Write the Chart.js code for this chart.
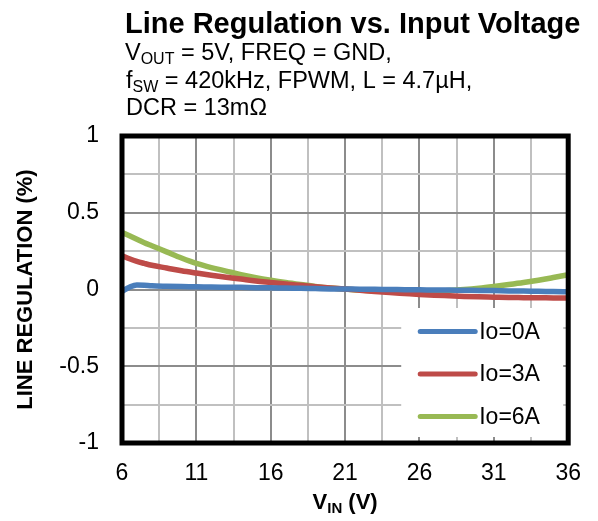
<!DOCTYPE html>
<html>
<head>
<meta charset="utf-8">
<script src="https://cdn.jsdelivr.net/npm/chart.js@4.4.1/dist/chart.umd.min.js"></script>
<style>
  html, body { margin: 0; padding: 0; background: #fff; overflow: hidden; }
  #wrap { position: relative; width: 598px; height: 521px; }
</style>
</head>
<body>
<div id="wrap"><canvas id="c" width="598" height="521"></canvas></div>
<script>
// Input voltage (V)
const VIN = [6, 6.5, 7, 7.5, 8, 9, 10, 11, 12, 13, 14, 15, 16, 17, 18, 19, 20, 21,
             22, 23, 24, 25, 26, 27, 28, 29, 30, 31, 32, 33, 34, 35, 36];

// Line regulation (%) per load current
const IO_0A = [-0.012, 0.015, 0.030, 0.028, 0.024, 0.021, 0.019, 0.018, 0.016, 0.015, 0.014, 0.012,
               0.011, 0.009, 0.008, 0.006, 0.004, 0.003, 0.002, 0.001, 0.000, -0.001, -0.002,
               -0.003, -0.004, -0.005, -0.006, -0.007, -0.009, -0.010, -0.012, -0.013, -0.015];
const IO_3A = [0.220, 0.200, 0.183, 0.170, 0.158, 0.140, 0.122, 0.107, 0.093, 0.080, 0.068, 0.056,
               0.046, 0.036, 0.027, 0.018, 0.010, 0.003, -0.005, -0.013, -0.020, -0.026, -0.032,
               -0.037, -0.041, -0.045, -0.048, -0.050, -0.052, -0.053, -0.054, -0.055, -0.056];
const IO_6A = [0.372, 0.350, 0.327, 0.305, 0.285, 0.245, 0.205, 0.170, 0.143, 0.120, 0.097, 0.077,
               0.060, 0.045, 0.032, 0.020, 0.010, 0.003, -0.004, -0.009, -0.012, -0.014, -0.015,
               -0.012, -0.007, 0.000, 0.009, 0.020, 0.032, 0.045, 0.060, 0.078, 0.096];

const SERIES_NAMES = ['Io=0A', 'Io=3A', 'Io=6A'];
const SERIES_COLORS = ['#4A7EBB', '#BE4B48', '#98B954'];

// Grid positions and the labelled subset
const X_TICKS = [6, 8.5, 11, 13.5, 16, 18.5, 21, 23.5, 26, 28.5, 31, 33.5, 36];
const X_LABELS = [6, 11, 16, 21, 26, 31, 36];
const Y_TICKS = [-1, -0.75, -0.5, -0.25, 0, 0.25, 0.5, 0.75, 1];
const Y_LABELS = [-1, -0.5, 0, 0.5, 1];

const FONT = '"Liberation Sans", Arial, sans-serif';

const toPoints = (ys) => VIN.map((v, i) => ({ x: v, y: ys[i] }));

// Draw a run of text pieces, some of them as subscripts
function drawRich(ctx, x, y, parts, size, weight, align) {
  const subSize = Math.round(size * 0.68);
  const fontOf = (p) => `${weight} ${p.sub ? subSize : size}px ${FONT}`;
  let total = 0;
  parts.forEach(p => { ctx.font = fontOf(p); total += ctx.measureText(p.t).width; });
  let cx = align === 'center' ? x - total / 2 : x;
  ctx.textAlign = 'left';
  ctx.textBaseline = 'alphabetic';
  parts.forEach(p => {
    ctx.font = fontOf(p);
    ctx.fillText(p.t, cx, p.sub ? y + size * 0.17 : y);
    cx += ctx.measureText(p.t).width;
  });
}

const decor = {
  id: 'decor',
  beforeDatasetsDraw(chart) {
    const { ctx, chartArea: a } = chart;
    // legend panel sits over the grid
    ctx.save();
    ctx.fillStyle = '#fff';
    ctx.fillRect(a.right - 167, a.bottom - 135, 162, 129);
    ctx.restore();
  },
  afterDatasetsDraw(chart) {
    const { ctx, chartArea: a } = chart;
    ctx.save();
    // legend entries
    chart.data.datasets.forEach((ds, i) => {
      const y = a.bottom - 111.5 + i * 42.5;
      ctx.strokeStyle = ds.borderColor;
      ctx.lineWidth = 5;
      ctx.lineCap = 'round';
      ctx.beginPath();
      ctx.moveTo(a.right - 148, y);
      ctx.lineTo(a.right - 93, y);
      ctx.stroke();
      ctx.fillStyle = '#000';
      ctx.font = `23px ${FONT}`;
      ctx.textAlign = 'left';
      ctx.textBaseline = 'middle';
      ctx.fillText(ds.label, a.right - 89, y + 1);
    });
    // heavy frame around the plot area
    ctx.strokeStyle = '#000';
    ctx.lineWidth = 5;
    ctx.lineCap = 'butt';
    ctx.lineJoin = 'miter';
    ctx.strokeRect(a.left, a.top, a.right - a.left, a.bottom - a.top);
    ctx.restore();
  },
  afterDraw(chart) {
    const { ctx, chartArea: a } = chart;
    ctx.save();
    ctx.fillStyle = '#000';
    ctx.font = `bold 29px ${FONT}`;
    ctx.textAlign = 'left';
    ctx.textBaseline = 'alphabetic';
    ctx.fillText('Line Regulation vs. Input Voltage', 125, 33);
    drawRich(ctx, 125, 60, [{ t: 'V' }, { t: 'OUT', sub: true }, { t: ' = 5V, FREQ = GND,' }], 23.5, 'normal', 'left');
    drawRich(ctx, 126, 88, [{ t: 'f' }, { t: 'SW', sub: true }, { t: ' = 420kHz, FPWM, L = 4.7\u00B5H,' }], 23.5, 'normal', 'left');
    drawRich(ctx, 126, 115, [{ t: 'DCR = 13m\u03A9' }], 23.5, 'normal', 'left');
    // x-axis title
    drawRich(ctx, (a.left + a.right) / 2, 509, [{ t: 'V' }, { t: 'IN', sub: true }, { t: ' (V)' }], 22, 'bold', 'center');
    ctx.restore();
  }
};

const near = (v, list) => list.some(t => Math.abs(t - v) < 1e-9);

new Chart(document.getElementById('c'), {
  type: 'line',
  data: {
    datasets: [IO_0A, IO_3A, IO_6A].map((ys, i) => ({
      label: SERIES_NAMES[i],
      data: toPoints(ys),
      borderColor: SERIES_COLORS[i],
      backgroundColor: SERIES_COLORS[i],
      borderWidth: 5.5,
      pointRadius: 0,
      cubicInterpolationMode: 'monotone',
      borderCapStyle: 'round',
      fill: false
    }))
  },
  options: {
    responsive: false,
    animation: false,
    devicePixelRatio: 1,
    layout: { padding: { top: 136, right: 27, left: 0, bottom: 0 } },
    plugins: { legend: { display: false }, tooltip: { enabled: false } },
    scales: {
      x: {
        type: 'linear',
        min: 6,
        max: 36,
        afterBuildTicks(scale) { scale.ticks = X_TICKS.map(v => ({ value: v })); },
        afterFit(scale) { scale.height = 78; },
        border: { display: false },
        grid: {
          drawTicks: false,
          lineWidth: 2,
          color: (c) => near(c.tick.value, X_LABELS) ? '#8c8c8c' : '#c0c0c0'
        },
        ticks: {
          autoSkip: false,
          maxRotation: 0,
          padding: 17,
          color: '#000',
          font: { family: FONT, size: 23 },
          callback: (v) => near(v, X_LABELS) ? String(v) : ''
        }
      },
      y: {
        min: -1,
        max: 1,
        afterBuildTicks(scale) { scale.ticks = Y_TICKS.map(v => ({ value: v })); },
        afterFit(scale) { scale.width = 122; },
        border: { display: false },
        grid: {
          drawTicks: false,
          lineWidth: 2,
          color: (c) => near(c.tick.value, Y_LABELS) ? '#8c8c8c' : '#c0c0c0'
        },
        ticks: {
          padding: 23,
          color: '#000',
          font: { family: FONT, size: 23 },
          callback: (v) => near(v, Y_LABELS) ? String(v) : ''
        },
        title: {
          display: true,
          text: 'LINE REGULATION (%)',
          color: '#000',
          font: { family: FONT, size: 22, weight: 'bold' },
          padding: { top: 13, bottom: 0 }
        }
      }
    }
  },
  plugins: [decor]
});
</script>
</body>
</html>
